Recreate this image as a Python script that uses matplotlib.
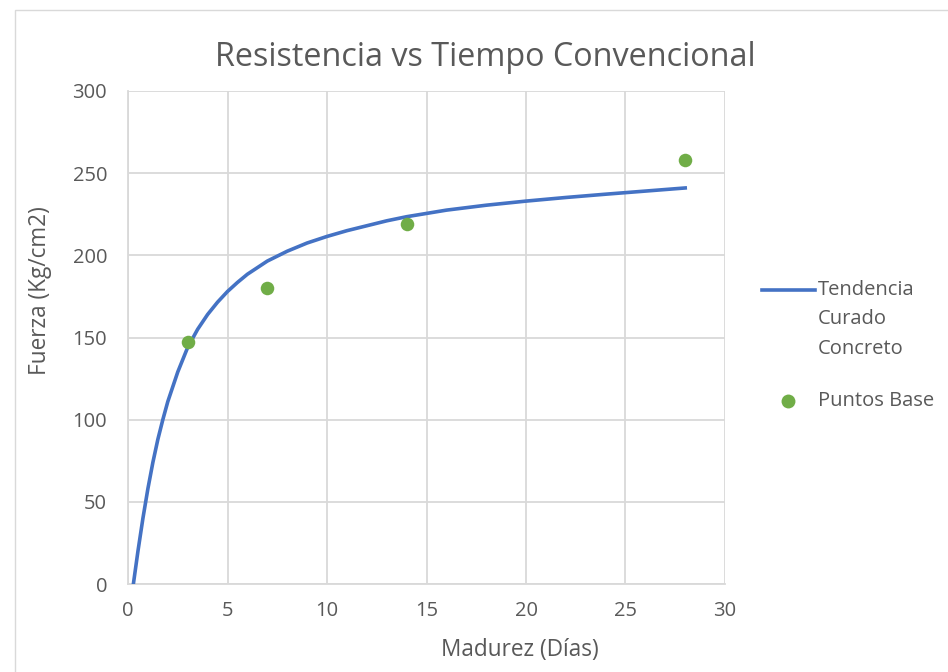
import matplotlib
matplotlib.use("Agg")
import matplotlib.pyplot as plt
from matplotlib.patches import Rectangle
from matplotlib.lines import Line2D

# Trend curve
trend_x = [0.27, 0.5, 0.75, 1.0, 1.25, 1.5, 1.75, 2.0, 2.5, 3.0, 3.5, 4.0, 4.5, 5.0, 5.5, 6.0,
           7.0, 8.0, 9.0, 10.0, 11.0, 12.0, 13.0, 14.0, 16.0, 18.0, 20.0, 22.0, 24.0, 26.0, 28.0]
trend_y = [0, 20, 40, 58, 74, 88, 100, 111, 129, 144, 155, 164, 171.5, 178, 183.5, 188.5,
           196.5, 202.5, 207.5, 211.5, 215, 218, 221, 223.5, 227.5, 230.5, 233, 235.2, 237.2, 239.1, 241]

# Base points
base_x = [3, 7, 14, 28]
base_y = [147, 180, 219, 258]

x_ticks = [0, 5, 10, 15, 20, 25, 30]
y_ticks = [0, 50, 100, 150, 200, 250, 300]

title = "Resistencia vs Tiempo Convencional"
xlabel = "Madurez (Días)"
ylabel = "Fuerza (Kg/cm2)"
trend_label_lines = ["Tendencia", "Curado", "Concreto"]
points_label = "Puntos Base"

plt.rcParams['font.family'] = ['Open Sans', 'DejaVu Sans']
gray = "#595959"
grid = "#d9d9d9"
blue = "#4472c4"
green = "#70ad47"
W, H = 948, 672

fig = plt.figure(figsize=(W / 100, H / 100), dpi=100)
fig.patches.append(Rectangle((15 / W, -0.01), 1.0, 1 - 10 / H + 0.01, transform=fig.transFigure,
                             fill=False, edgecolor="#d9d9d9", linewidth=1))
ax = fig.add_axes([128 / W, 1 - 584 / H, (725 - 128) / W, (584 - 91) / H])

ax.plot(trend_x, trend_y, color=blue, linewidth=2.6, zorder=3)
ax.scatter(base_x, base_y, s=95, color=green, zorder=4, linewidths=0)

ax.set_xlim(0, 30)
ax.set_ylim(0, 300)
ax.set_xticks(x_ticks)
ax.set_yticks(y_ticks)
ax.grid(True, color=grid, linewidth=1.3)
ax.set_axisbelow(True)
for s in ["top", "right"]:
    ax.spines[s].set_visible(False)
for s in ["left", "bottom"]:
    ax.spines[s].set_color(grid)
    ax.spines[s].set_linewidth(1.3)
ax.tick_params(length=0, labelsize=14.5, colors=gray)
ax.tick_params(axis="y", pad=15)
ax.tick_params(axis="x", pad=12)

fig.text(485 / W, 1 - 58 / H, title, fontsize=23.3, color=gray, ha="center", va="center")
fig.text(520 / W, 1 - 650 / H, xlabel, fontsize=16.3, color=gray, ha="center", va="center")
fig.text(40 / W, 1 - 291 / H, ylabel, fontsize=16.3, color=gray, ha="center", va="center",
         rotation=90)

# legend (drawn manually to match layout)
fig.add_artist(Line2D([762 / W, 815 / W], [1 - 290 / H, 1 - 290 / H], color=blue, linewidth=2.6,
                      transform=fig.transFigure))
for i, t in enumerate(trend_label_lines):
    fig.text(818 / W, 1 - (290 + 29.5 * i) / H, t, fontsize=14.5, color=gray, ha="left", va="center")
fig.add_artist(Line2D([788 / W], [1 - 401 / H], marker="o", markersize=10, color=green,
                      markeredgewidth=0, linestyle="none", transform=fig.transFigure))
fig.text(818 / W, 1 - 401 / H, points_label, fontsize=14.5, color=gray, ha="left", va="center")

fig.savefig("out.png", dpi=100)
